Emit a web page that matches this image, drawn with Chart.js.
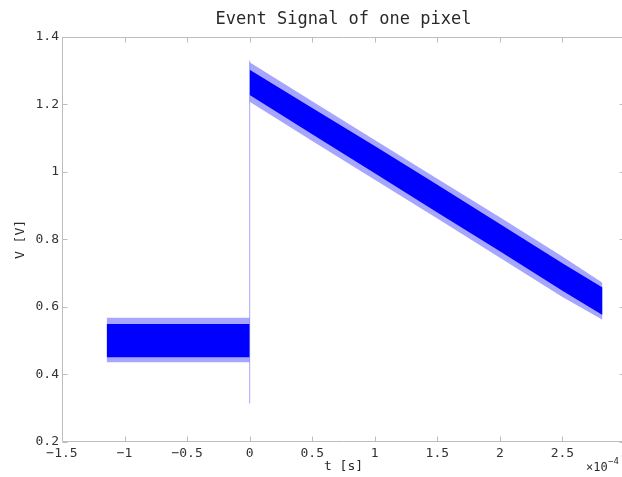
<!DOCTYPE html>
<html>
<head>
<meta charset="utf-8">
<script src="https://cdn.jsdelivr.net/npm/chart.js@4.4.1/dist/chart.umd.min.js"></script>
<style>
  html, body { margin: 0; background: #fff; overflow: hidden; }
  #wrap { width: 622px; height: 477px; overflow: hidden; }
  #chart { display: block; }
</style>
</head>
<body>
<div id="wrap"><canvas id="chart" width="640" height="477"></canvas></div>
<script>
// time in units of 1e-4 s, voltage in V
const xTicks = [-1.5, -1, -0.5, 0, 0.5, 1, 1.5, 2, 2.5, 3];
const yTicks = [0.2, 0.4, 0.6, 0.8, 1, 1.2, 1.4];

// flat part before the event: dense core band and outer spike band
const baseT = [-1.143, 0];
const baseCoreHi = [0.55, 0.55];
const baseCoreLo = [0.451, 0.451];
const baseSpikeHi = [0.568, 0.568];
const baseSpikeLo = [0.436, 0.436];

// decaying part after the event
const decayT = [0, 0.5, 1.0, 1.5, 2.0, 2.5, 2.82];
const decayCoreHi = [1.303, 1.19, 1.077, 0.962, 0.846, 0.73, 0.658];
const decayCoreLo = [1.228, 1.112, 0.996, 0.88, 0.765, 0.648, 0.576];
const decaySpikeHi = [1.325, 1.21, 1.095, 0.98, 0.866, 0.75, 0.672];
const decaySpikeLo = [1.208, 1.092, 0.977, 0.862, 0.746, 0.63, 0.562];

// the edge at t = 0 (undershoot down to about 0.31)
const edgeT = [0, 0];
const edgeV = [0.314, 1.33];

const BLUE = '#0000ff';
const FAINT = 'rgba(0, 0, 255, 0.35)';
const FONT = "'DejaVu Sans Mono', monospace";

function pts(xs, ys) {
    return xs.map((x, i) => ({ x: x, y: ys[i] }));
}

function band(xs, hi, lo, color) {
    return [
        { data: pts(xs, hi), fill: '+1', backgroundColor: color, borderWidth: 0, pointRadius: 0 },
        { data: pts(xs, lo), fill: false, borderWidth: 0, pointRadius: 0 }
    ];
}

const datasets = [
    ...band(baseT, baseSpikeHi, baseSpikeLo, FAINT),
    ...band(baseT, baseCoreHi, baseCoreLo, BLUE),
    ...band(decayT, decaySpikeHi, decaySpikeLo, FAINT),
    ...band(decayT, decayCoreHi, decayCoreLo, BLUE),
    { data: pts(edgeT, edgeV), borderColor: FAINT, borderWidth: 1, pointRadius: 0, fill: false }
];

function fmt(v) {
    return v < 0 ? '\u2212' + Math.abs(v) : String(v);
}

// axes lines with inward ticks, plus title and axis labels
// (the right edge of the box lies just past the window, only its ticks show)
const frame = {
    id: 'frame',
    beforeDatasetsDraw(chart) {
        const { ctx, chartArea: a, scales } = chart;
        const L = Math.round(a.left) + 0.5, R = Math.round(a.right) - 0.5;
        const T = Math.round(a.top) + 0.5, B = Math.round(a.bottom) - 0.5;
        ctx.save();
        ctx.strokeStyle = '#bdbdbd';
        ctx.lineWidth = 1;
        ctx.beginPath();
        ctx.moveTo(R, T); ctx.lineTo(L, T); ctx.lineTo(L, B); ctx.lineTo(R, B);
        xTicks.forEach(v => {
            const px = Math.round(scales.x.getPixelForValue(v)) + 0.5;
            ctx.moveTo(px, B); ctx.lineTo(px, B - 5);
            ctx.moveTo(px, T); ctx.lineTo(px, T + 5);
        });
        yTicks.forEach(v => {
            const py = Math.round(scales.y.getPixelForValue(v)) + 0.5;
            ctx.moveTo(L, py); ctx.lineTo(L + 5, py);
            ctx.moveTo(R, py); ctx.lineTo(R - 5, py);
        });
        ctx.stroke();
        ctx.restore();
    },
    afterDraw(chart) {
        const { ctx, chartArea: a } = chart;
        const cx = (a.left + a.right) / 2;
        const cy = (a.top + a.bottom) / 2;
        ctx.save();
        ctx.fillStyle = '#2a2a2a';
        ctx.textAlign = 'center';
        ctx.textBaseline = 'middle';
        ctx.font = '17px ' + FONT;
        ctx.fillText('Event Signal of one pixel', cx, 20);
        ctx.font = '13px ' + FONT;
        ctx.fillText('t [s]', cx, 467);
        ctx.save();
        ctx.translate(21, cy);
        ctx.rotate(-Math.PI / 2);
        ctx.fillText('V [V]', 0, 0);
        ctx.restore();
        ctx.textAlign = 'left';
        ctx.font = '12px ' + FONT;
        ctx.fillText('\u00d710', 586, 468);
        ctx.font = '9px ' + FONT;
        ctx.fillText('\u22124', 608, 462);
        ctx.restore();
    }
};

new Chart(document.getElementById('chart'), {
    type: 'line',
    data: { datasets: datasets },
    options: {
        responsive: false,
        animation: false,
        layout: { padding: { left: 0, top: 37, right: 15, bottom: 0 } },
        plugins: { legend: { display: false }, tooltip: { enabled: false }, title: { display: false } },
        elements: { line: { tension: 0 } },
        scales: {
            x: {
                type: 'linear',
                min: -1.5,
                max: 3,
                afterBuildTicks: s => { s.ticks = xTicks.map(v => ({ value: v })); },
                afterFit: s => { s.height = 35; },
                grid: { display: false, drawTicks: false },
                border: { display: false },
                ticks: {
                    autoSkip: false,
                    maxRotation: 0,
                    padding: 4,
                    color: '#333',
                    font: { family: FONT, size: 13 },
                    callback: v => fmt(v)
                }
            },
            y: {
                type: 'linear',
                min: 0.2,
                max: 1.4,
                afterBuildTicks: s => { s.ticks = yTicks.map(v => ({ value: v })); },
                afterFit: s => { s.width = 62; },
                grid: { display: false, drawTicks: false },
                border: { display: false },
                ticks: {
                    autoSkip: false,
                    padding: 3,
                    color: '#333',
                    font: { family: FONT, size: 13 },
                    callback: v => fmt(v)
                }
            }
        }
    },
    plugins: [frame]
});
</script>
</body>
</html>
